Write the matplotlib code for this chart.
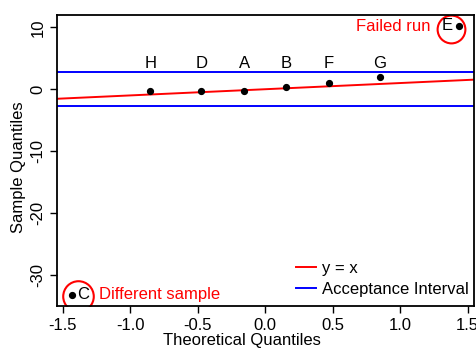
import matplotlib
matplotlib.use("Agg")
import matplotlib.pyplot as plt
from matplotlib.transforms import ScaledTranslation

plt.rcParams['font.family'] = ['Liberation Sans', 'DejaVu Sans']
plt.rcParams['axes.unicode_minus'] = False

# normal quantiles (ppoints, n=8) and observed sample values
theoretical = [-1.434, -0.852, -0.473, -0.153, 0.153, 0.473, 0.852, 1.434]
sample = [-33.2, -0.35, -0.3, -0.3, 0.3, 1.0, 2.05, 10.3]
names = ["C", "H", "D", "A", "B", "F", "G", "E"]
accept_limit = 2.75
label_height = 4.2

fig = plt.figure(figsize=(4.76, 3.49), dpi=100)
ax = fig.add_axes([0.1204, 0.124, 0.8754, 0.833])

ax.axline((0, 0), slope=1, color="red", lw=1.4, label="y = x")
ax.axhline(accept_limit, color="blue", lw=1.4, label="Acceptance Interval")
ax.axhline(-accept_limit, color="blue", lw=1.4)
ax.plot(theoretical, sample, "o", color="black", ms=4.2, zorder=3)

# letters above the regular points
for x, n in zip(theoretical[1:-1], names[1:-1]):
    ax.text(x, label_height, n, ha="center", va="center", fontsize=12)

# outliers: letter beside point, red circle and note
ax.annotate(names[-1], (theoretical[-1], sample[-1]), xytext=(-4, 0),
            textcoords="offset points", ha="right", va="center", fontsize=12)
ax.annotate(names[0], (theoretical[0], sample[0]), xytext=(4, 0),
            textcoords="offset points", ha="left", va="center", fontsize=12)
px = fig.dpi_scale_trans
ax.plot(theoretical[-1], sample[-1], "o", ms=20, mfc="none", mec="red", mew=1.5,
        transform=ax.transData + ScaledTranslation(-7.5 / 100, -3 / 100, px))
ax.plot(theoretical[0], sample[0], "o", ms=22, mfc="none", mec="red", mew=1.5,
        transform=ax.transData + ScaledTranslation(6.3 / 100, -1 / 100, px))
ax.annotate("Failed run", (theoretical[-1], sample[-1]), xytext=(-20, -1),
            textcoords="offset points", ha="right", va="center", fontsize=12, color="red")
ax.annotate("Different sample", (theoretical[0], sample[0]), xytext=(20, 0),
            textcoords="offset points", ha="left", va="center", fontsize=12, color="red")

ax.set_xlim(-1.54, 1.548)
ax.set_ylim(-35.0, 12.0)
ax.set_xticks([-1.5, -1.0, -0.5, 0.0, 0.5, 1.0, 1.5])
ax.set_yticks([-30, -20, -10, 0, 10])
ax.tick_params(direction="out", length=5, width=1, labelsize=12)
for lab in ax.get_yticklabels():
    lab.set_rotation(90)
    lab.set_va("center")
for s in ax.spines.values():
    s.set_linewidth(1.3)

ax.set_xlabel("Theoretical Quantiles", fontsize=12)
ax.set_ylabel("Sample Quantiles", fontsize=12)
ax.xaxis.set_label_coords(0.443, -0.094)
ax.yaxis.set_label_coords(-0.076, 0.475)

ax.legend(loc="lower right", frameon=False, fontsize=12, handlelength=1.2,
          handletextpad=0.35, labelspacing=0.4, borderaxespad=0.2,
          bbox_to_anchor=(1.012, -0.005))

fig.savefig("out.png", dpi=100)
